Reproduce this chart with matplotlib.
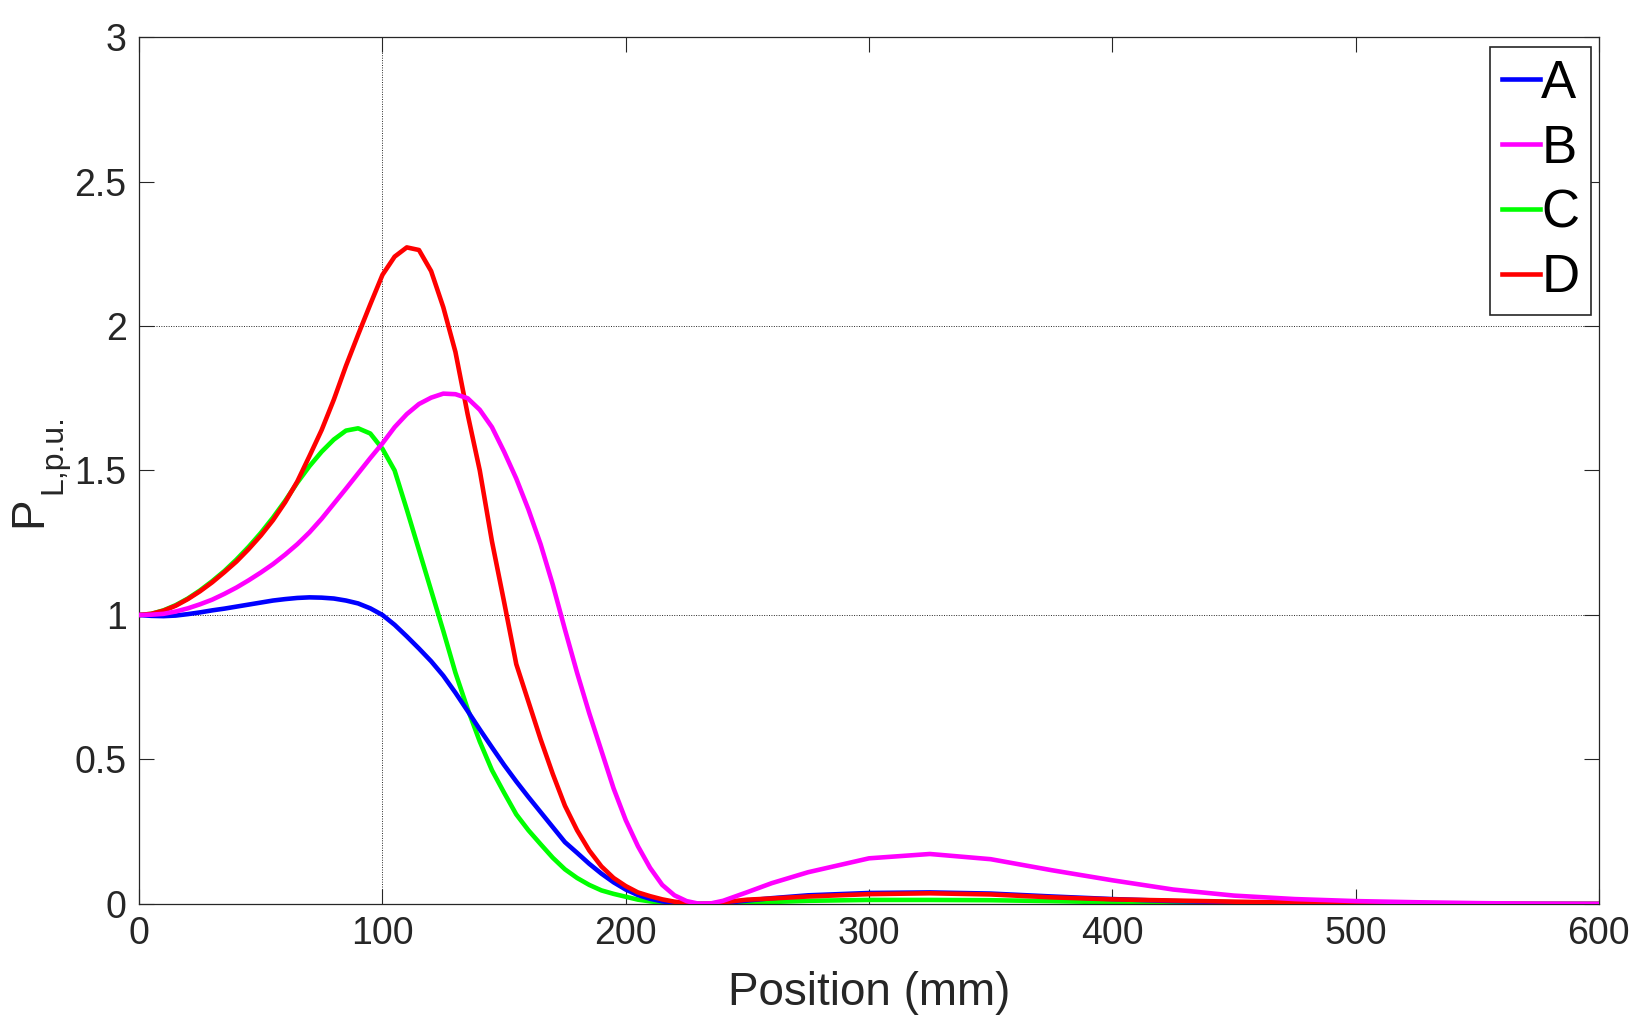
import numpy as np
import matplotlib
matplotlib.use('Agg')
import matplotlib.pyplot as plt

# position along the device (mm)
pos = [0, 5, 10, 15, 20, 25, 30, 35, 40, 45, 50, 55, 60, 65, 70, 75, 80, 85, 90, 95,
       100, 105, 110, 115, 120, 125, 130, 135, 140, 145, 150, 155, 160, 165, 170, 175,
       180, 185, 190, 195, 200, 205, 210, 215, 220, 225, 230, 235, 240,
       250, 260, 275, 300, 325, 350, 375, 400, 425, 450, 475, 500, 525, 550, 575, 600]

A = [1.000, 0.997, 0.996, 0.998, 1.003, 1.009, 1.016, 1.022, 1.029, 1.036, 1.043, 1.050,
     1.055, 1.059, 1.061, 1.060, 1.057, 1.050, 1.040, 1.023, 1.000, 0.966, 0.926, 0.884,
     0.840, 0.790, 0.731, 0.668, 0.604, 0.542, 0.481, 0.424, 0.370, 0.318, 0.266, 0.214,
     0.177, 0.139, 0.105, 0.075, 0.050, 0.031, 0.018, 0.009, 0.004, 0.001, 0.000, 0.000,
     0.003, 0.012, 0.020, 0.030, 0.038, 0.040, 0.036, 0.026, 0.017, 0.010, 0.006, 0.003,
     0.002, 0.001, 0.000, 0.000, 0.000]

B = [1.000, 1.001, 1.004, 1.012, 1.023, 1.037, 1.053, 1.073, 1.095, 1.120, 1.147, 1.176,
     1.209, 1.245, 1.286, 1.333, 1.385, 1.437, 1.490, 1.543, 1.594, 1.650, 1.695, 1.730,
     1.752, 1.766, 1.764, 1.750, 1.710, 1.650, 1.565, 1.472, 1.365, 1.245, 1.105, 0.950,
     0.800, 0.660, 0.530, 0.400, 0.290, 0.200, 0.125, 0.066, 0.030, 0.010, 0.001, 0.002,
     0.011, 0.041, 0.072, 0.110, 0.158, 0.173, 0.155, 0.117, 0.082, 0.050, 0.029, 0.017,
     0.010, 0.006, 0.003, 0.001, 0.000]

C = [1.000, 1.004, 1.016, 1.034, 1.057, 1.085, 1.117, 1.152, 1.192, 1.236, 1.284, 1.337,
     1.395, 1.458, 1.515, 1.565, 1.607, 1.638, 1.646, 1.628, 1.575, 1.500, 1.365, 1.225,
     1.085, 0.945, 0.800, 0.675, 0.562, 0.463, 0.385, 0.310, 0.255, 0.207, 0.160, 0.120,
     0.090, 0.066, 0.047, 0.035, 0.025, 0.015, 0.009, 0.005, 0.002, 0.001, 0.000, 0.000,
     0.001, 0.004, 0.007, 0.011, 0.014, 0.014, 0.013, 0.010, 0.006, 0.003, 0.001, 0.000,
     0.000, 0.000, 0.000, 0.000, 0.000]

D = [1.000, 1.004, 1.015, 1.032, 1.055, 1.082, 1.113, 1.148, 1.185, 1.228, 1.275, 1.328,
     1.390, 1.462, 1.550, 1.640, 1.745, 1.862, 1.970, 2.075, 2.177, 2.240, 2.272, 2.263,
     2.190, 2.065, 1.910, 1.695, 1.500, 1.255, 1.045, 0.830, 0.700, 0.570, 0.450, 0.340,
     0.255, 0.185, 0.130, 0.090, 0.062, 0.040, 0.027, 0.016, 0.008, 0.003, 0.000, 0.001,
     0.006, 0.015, 0.019, 0.026, 0.034, 0.037, 0.033, 0.023, 0.016, 0.012, 0.008, 0.005,
     0.003, 0.002, 0.001, 0.000, 0.000]

names = ['A', 'B', 'C', 'D']
colors = ['#0000ff', '#ff00ff', '#00ff00', '#ff0000']
zorders = [3, 5, 2, 4]

xticks = [0, 100, 200, 300, 400, 500, 600]
yticks = [0, 0.5, 1, 1.5, 2, 2.5, 3]
ytick_labels = ['0', '0.5', '1', '1.5', '2', '2.5', '3']

plt.rcParams['font.family'] = ['Liberation Sans', 'DejaVu Sans']
dark = '#262626'
W, H = 1647, 1031

fig = plt.figure(figsize=(W / 100, H / 100), dpi=100)
ax = fig.add_axes([0.0845, 0.1232, 0.8863, 0.8409])

for yy in [1, 2]:
    ax.axhline(yy, color=dark, lw=0.7, ls=(0, (1, 1.5)), zorder=1)
ax.axvline(100, color=dark, lw=0.7, ls=(0, (1, 1.5)), zorder=1)

for ys, nm, c, z in zip([A, B, C, D], names, colors, zorders):
    ax.plot(pos, ys, color=c, lw=3.3, label=nm, zorder=z)

ax.set_xlim(0, 600)
ax.set_ylim(0, 3)
ax.set_xticks(xticks)
ax.set_yticks(yticks)
ax.set_yticklabels(ytick_labels)
ax.tick_params(direction='in', length=10.5, width=0.8, top=True, right=True,
               labelsize=27, pad=9, colors=dark)
for sp in ax.spines.values():
    sp.set_linewidth(0.9)
    sp.set_color(dark)

ax.set_xlabel('Position (mm)', fontsize=33, color=dark, labelpad=13)
# y label: P with subscript, drawn as two rotated texts
fig.text(29 / W, 1 - 512 / H, 'P', rotation=90, ha='center', va='center',
         fontsize=33, color=dark)
fig.text(53 / W, 1 - 494 / H, 'L,p.u.', rotation=90, ha='center', va='bottom',
         fontsize=23, color=dark)

handles, labels = ax.get_legend_handles_labels()
leg = ax.legend(handles, labels, loc='upper right', bbox_to_anchor=(0.9945, 0.9881),
                fontsize=38, handlelength=0.72, handletextpad=0.02, labelspacing=0.28,
                borderpad=0.22, borderaxespad=0, fancybox=False, framealpha=1,
                edgecolor=dark)
leg.get_frame().set_linewidth(1.2)

plt.savefig('out.png', dpi=100)
